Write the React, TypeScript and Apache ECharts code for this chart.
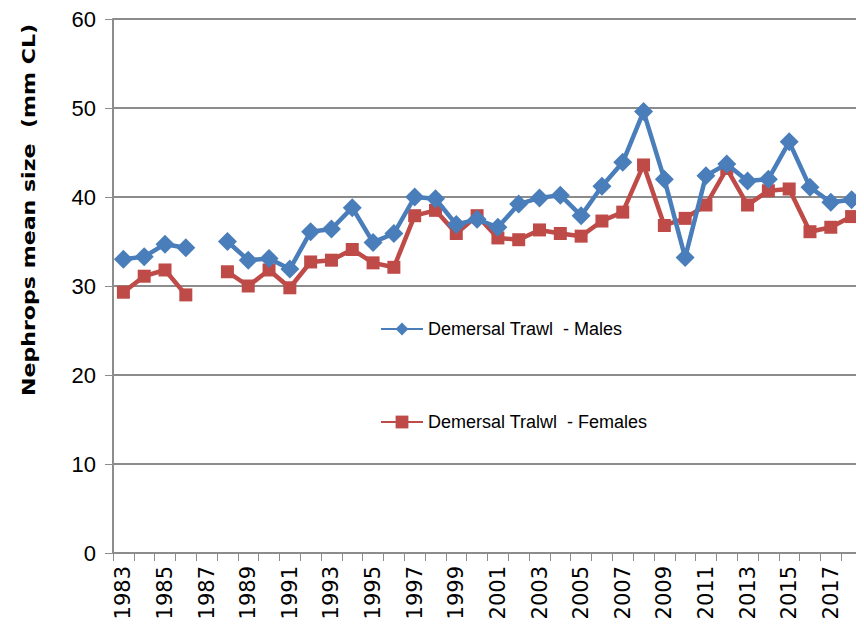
import React, { useEffect, useRef } from "react";
import * as echarts from "echarts";

const years: string[] = [];
for (let y = 1983; y <= 2018; y++) years.push(String(y));

const males: (number | null)[] = [
  33.0, 33.3, 34.7, 34.3, null, 35.0, 32.9, 33.1, 31.9, 36.1, 36.4, 38.8,
  34.9, 35.9, 40.0, 39.8, 36.9, 37.5, 36.6, 39.2, 39.9, 40.2, 37.9, 41.2,
  43.9, 49.6, 42.0, 33.2, 42.4, 43.7, 41.8, 42.0, 46.2, 41.1, 39.4, 39.7,
];

const females: (number | null)[] = [
  29.3, 31.1, 31.8, 29.0, null, 31.6, 30.0, 31.8, 29.8, 32.7, 32.9, 34.1,
  32.6, 32.1, 37.9, 38.5, 35.9, 37.9, 35.4, 35.2, 36.3, 35.9, 35.6, 37.3,
  38.3, 43.6, 36.8, 37.6, 39.1, 43.2, 39.1, 40.7, 40.9, 36.1, 36.6, 37.8,
];

const seriesNames = ["Demersal Trawl  - Males", "Demersal Tralwl  - Females"];
const yTitle = "Nephrops mean size  (mm CL)";

const SANS = "'Liberation Sans', Arial, sans-serif";

export default function App() {
  const ref = useRef<HTMLDivElement>(null);
  useEffect(() => {
    if (!ref.current) return;
    const chart = echarts.init(ref.current, undefined, { renderer: "svg" });
    chart.setOption({
      animation: false,
      backgroundColor: "#ffffff",
      grid: { left: 105, right: 2, top: 9, bottom: 86, containLabel: false },
      legend: {
        orient: "vertical",
        left: 372,
        top: 312,
        padding: 0,
        itemGap: 75,
        itemWidth: 42,
        itemHeight: 16,
        textStyle: { fontFamily: SANS, fontSize: 18, color: "#000" },
        data: seriesNames,
      },
      graphic: [
        {
          type: "text",
          x: 21,
          y: 202,
          rotation: Math.PI / 2,
          scaleX: 1.3,
          style: {
            text: yTitle,
            font: "bold 17px 'DejaVu Sans', Verdana, sans-serif",
            fill: "#000",
            align: "center",
            verticalAlign: "middle",
          },
        },
      ],
      xAxis: {
        type: "category",
        data: years,
        boundaryGap: true,
        axisLine: { lineStyle: { color: "#8c8c8c", width: 2 } },
        axisTick: { show: true, interval: 0, length: 8, lineStyle: { color: "#8c8c8c" } },
        axisLabel: {
          interval: 1,
          rotate: 90,
          fontFamily: "'DejaVu Sans', sans-serif",
          fontSize: 21,
          color: "#000",
          margin: 13,
        },
        splitLine: { show: false },
      },
      yAxis: {
        type: "value",
        min: 0,
        max: 60,
        interval: 10,
        axisLine: { show: true, lineStyle: { color: "#8c8c8c", width: 2 } },
        axisTick: { show: true, length: 8, lineStyle: { color: "#8c8c8c" } },
        axisLabel: { fontFamily: SANS, fontSize: 22, color: "#000", margin: 17 },
        splitLine: { show: true, lineStyle: { color: "#8c8c8c", width: 2 } },
      },
      series: [
        {
          name: seriesNames[0],
          type: "line",
          data: males,
          connectNulls: false,
          showAllSymbol: true,
          symbol: "diamond",
          symbolSize: 19,
          itemStyle: { color: "#4a7ebb" },
          lineStyle: { color: "#4a7ebb", width: 4.5 },
          z: 3,
        },
        {
          name: seriesNames[1],
          type: "line",
          data: females,
          connectNulls: false,
          showAllSymbol: true,
          symbol: "rect",
          symbolSize: 13,
          itemStyle: { color: "#be4b48" },
          lineStyle: { color: "#be4b48", width: 4.5 },
          z: 2,
        },
      ],
    });
    return () => chart.dispose();
  }, []);
  return <div ref={ref} style={{ width: 856, height: 631 }} />;
}
